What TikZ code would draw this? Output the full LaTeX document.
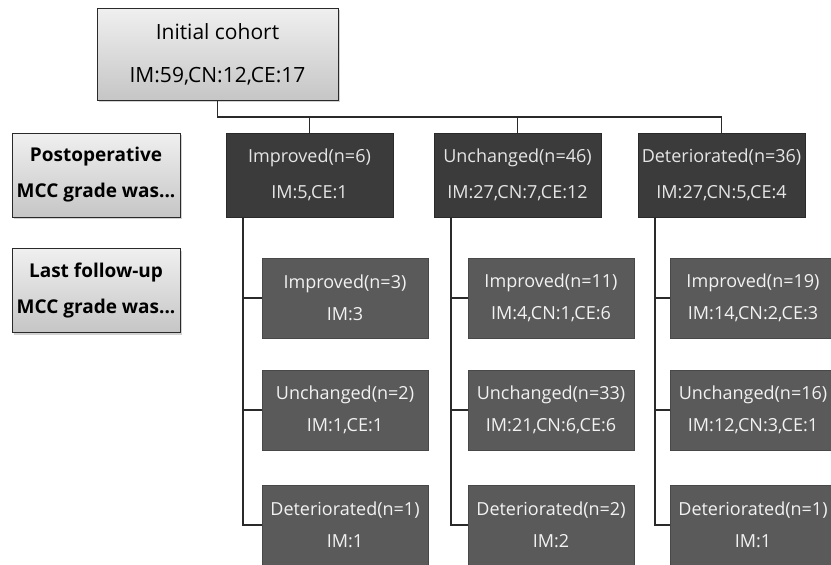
\documentclass[tikz,border=0pt]{standalone}
\usepackage{fontspec}
\setmainfont{Open Sans}
\usetikzlibrary{shadows}
\definecolor{topbox}{HTML}{3B3B3B}
\definecolor{subbox}{HTML}{5A5A5A}
\definecolor{boxline}{HTML}{2A2A2A}
\tikzset{
	graybox/.style={draw=boxline, line width=0.8pt, top color=gray!12, bottom color=gray!45,
		drop shadow={shadow xshift=2pt, shadow yshift=-2pt, opacity=0.35},
		align=center, inner sep=0pt},
	cohortbox/.style={graybox, minimum width=241pt, minimum height=92pt,
		font=\fontsize{21}{43}\selectfont},
	labelbox/.style={graybox, minimum width=168pt, minimum height=84pt,
		font=\fontsize{19}{36}\selectfont\bfseries},
	gradebox/.style={fill=topbox, draw=boxline, text=white!90!black, align=center, inner sep=0pt,
		minimum width=167pt, minimum height=84pt, font=\fontsize{18}{36}\selectfont},
	followbox/.style={fill=subbox, draw=subbox!80!black, text=white!95!black, align=center, inner sep=0pt,
		minimum width=166pt, minimum height=80pt, font=\fontsize{18}{32}\selectfont},
	link/.style={draw=boxline, line width=1.4pt}
}
\begin{document}
\begin{tikzpicture}[x=1pt, y=-1pt]
		\clip (0,0) rectangle (831,565);
		\fill[white] (0,0) rectangle (831,565);
		% initial cohort and row labels
		\node [cohortbox] (init) at (217.5,54) {Initial cohort\\IM:59,CN:12,CE:17};
		\node [labelbox] (post) at (96,175) {Postoperative\\MCC grade was...};
		\node [labelbox] (last) at (96,290.5) {Last follow-up\\MCC grade was...};
		% postoperative grade
		\node [gradebox] (imp) at (309.5,175) {Improved(n=6)\\IM:5,CE:1};
		\node [gradebox] (unc) at (517.5,175) {Unchanged(n=46)\\IM:27,CN:7,CE:12};
		\node [gradebox] (det) at (721.5,175) {Deteriorated(n=36)\\IM:27,CN:5,CE:4};
		% last follow-up grade
		\node [followbox] (impimp) at (345,298) {Improved(n=3)\\IM:3};
		\node [followbox] (impunc) at (345,410) {Unchanged(n=2)\\IM:1,CE:1};
		\node [followbox] (impdet) at (345,525) {Deteriorated(n=1)\\IM:1};
		\node [followbox] (uncimp) at (551,298) {Improved(n=11)\\IM:4,CN:1,CE:6};
		\node [followbox] (uncunc) at (551,410) {Unchanged(n=33)\\IM:21,CN:6,CE:6};
		\node [followbox] (uncdet) at (551,525) {Deteriorated(n=2)\\IM:2};
		\node [followbox] (detimp) at (753,298) {Improved(n=19)\\IM:14,CN:2,CE:3};
		\node [followbox] (detunc) at (753,410) {Unchanged(n=16)\\IM:12,CN:3,CE:1};
		\node [followbox] (detdet) at (753,525) {Deteriorated(n=1)\\IM:1};
		% connectors
		\coordinate (bus) at (217.5,117);
		\draw [link] (init.south) -- (bus) -| (det.north);
		\draw [link] (imp.north) -- (imp.north |- bus);
		\draw [link] (unc.north) -- (unc.north |- bus);
		\foreach \p in {imp,unc,det} {
			\coordinate (\p trunk) at ([xshift=17pt]\p.south west);
			\draw [link] (\p trunk) |- (\p det.west);
			\draw [link] (\p trunk |- \p imp.west) -- (\p imp.west);
			\draw [link] (\p trunk |- \p unc.west) -- (\p unc.west);
		}
	\end{tikzpicture}
\end{document}
